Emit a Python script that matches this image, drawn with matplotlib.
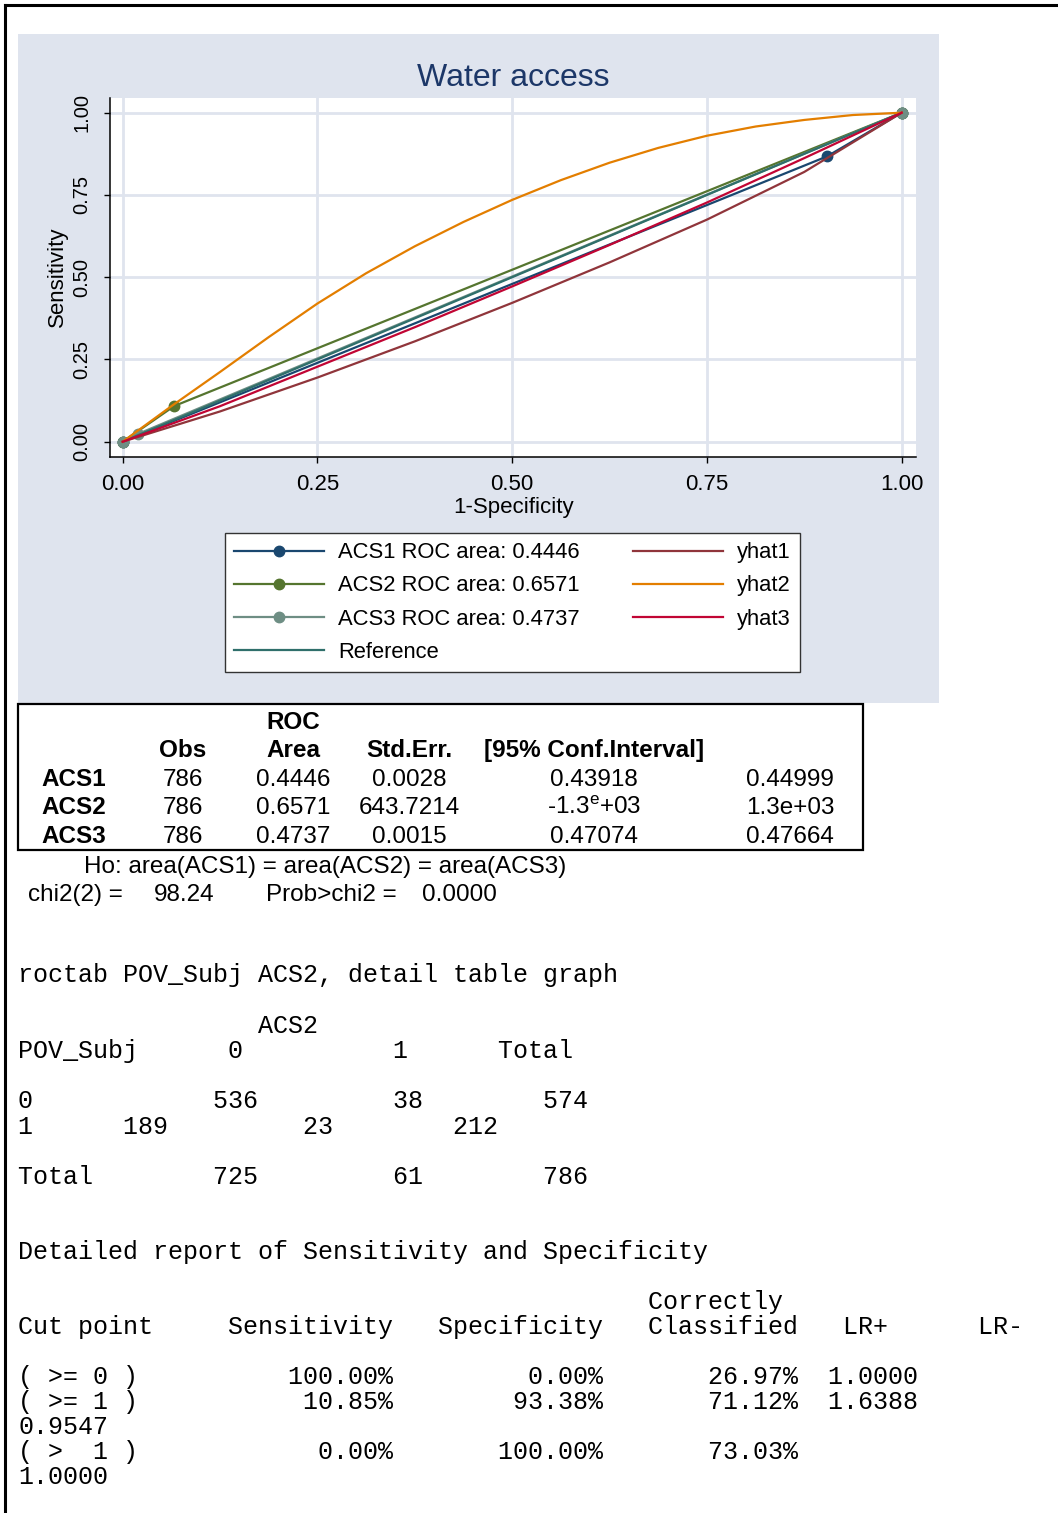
import matplotlib.pyplot as plt
from matplotlib.patches import Rectangle
from matplotlib.lines import Line2D

# page size in pixels (dpi 100)
W, H = 1058, 1513

# ROC points (1-specificity, sensitivity)
acs1_x = [0, 0.904, 1]
acs1_y = [0, 0.867, 1]
acs2_x = [0, 0.0662, 1]
acs2_y = [0, 0.1085, 1]
acs3_x = [0, 0.020, 1]
acs3_y = [0, 0.024, 1]
ref_x = [0, 1]
ref_y = [0, 1]

# fitted curves
yhat1_x = [0, 0.125, 0.25, 0.375, 0.5, 0.625, 0.75, 0.875, 1]
yhat1_y = [0, 0.092, 0.195, 0.305, 0.422, 0.545, 0.675, 0.82, 1]
yhat3_x = [0, 0.125, 0.25, 0.375, 0.5, 0.625, 0.75, 0.875, 1]
yhat3_y = [0, 0.108, 0.228, 0.348, 0.472, 0.598, 0.727, 0.862, 1]
yhat2_x = [0, 0.0625, 0.125, 0.1875, 0.25, 0.3125, 0.375, 0.4375, 0.5,
           0.5625, 0.625, 0.6875, 0.75, 0.8125, 0.875, 0.9375, 1]
yhat2_y = [0, 0.108, 0.212, 0.318, 0.42, 0.512, 0.594, 0.668, 0.735,
           0.795, 0.848, 0.893, 0.93, 0.958, 0.978, 0.993, 1]

roc_names = ["ACS1", "ACS2", "ACS3"]
roc_areas = ["0.4446", "0.6571", "0.4737"]
obs = ["786", "786", "786"]
std_err = ["0.0028", "643.7214", "0.0015"]
ci_low = ["0.43918", r"-1.3$^\mathregular{e}$+03", "0.47074"]
ci_high = ["0.44999", "1.3e+03", "0.47664"]
chi2_val = "98.24"
prob_val = "0.0000"

# roctab cross table
tab_rows = ["0", "1"]
tab_c0 = [536, 189]
tab_c1 = [38, 23]
tab_tot = [574, 212]
col_tot = [725, 61, 786]

# detail report
cut_pts = ["( >= 0 )", "( >= 1 )", "( >  1 )"]
sens = ["100.00%", "10.85%", "0.00%"]
spec = ["0.00%", "93.38%", "100.00%"]
correct = ["26.97%", "71.12%", "73.03%"]
lr_pos = ["1.0000", "1.6388", ""]
lr_neg = ["", "0.9547", "1.0000"]

bg = "#dfe4ee"
c_acs1, c_acs2, c_acs3 = "#1a476f", "#55752f", "#6e8e84"
c_ref = "#2f6f6b"
c_y1, c_y2, c_y3 = "#90353b", "#e37e00", "#c10534"

sans = "Liberation Sans"
mono = "Liberation Mono"


def fx(x):
    return x / W


def fy(y):
    return 1 - y / H


fig = plt.figure(figsize=(W / 100, H / 100), dpi=100)
fig.patch.set_facecolor("white")

# page borders
fig.add_artist(Line2D([fx(5), 1], [fy(5), fy(5)], transform=fig.transFigure,
                      color="black", lw=2.2))
fig.add_artist(Line2D([fx(5), fx(5)], [fy(5), 0], transform=fig.transFigure,
                      color="black", lw=2.2))

# graph region
fig.add_artist(Rectangle((fx(18), fy(703)), (939 - 18) / W, (703 - 34) / H,
                         transform=fig.transFigure, facecolor=bg,
                         edgecolor="none", zorder=-1))

ax = fig.add_axes([fx(110), fy(457), (916 - 110) / W, (457 - 98) / H])
ax.set_facecolor("white")
lw = 1.6
ms = 7.5
ax.plot(acs1_x, acs1_y, color=c_acs1, lw=lw, marker="o", ms=ms,
        label=f"{roc_names[0]} ROC area: {roc_areas[0]}")
ax.plot(acs2_x, acs2_y, color=c_acs2, lw=lw, marker="o", ms=ms,
        label=f"{roc_names[1]} ROC area: {roc_areas[1]}")
ax.plot(acs3_x, acs3_y, color=c_acs3, lw=lw, marker="o", ms=ms,
        label=f"{roc_names[2]} ROC area: {roc_areas[2]}")
ax.plot(ref_x, ref_y, color=c_ref, lw=lw, label="Reference")
ax.plot(yhat1_x, yhat1_y, color=c_y1, lw=lw, label="yhat1")
ax.plot(yhat2_x, yhat2_y, color=c_y2, lw=lw, label="yhat2")
ax.plot(yhat3_x, yhat3_y, color=c_y3, lw=lw, label="yhat3")

ax.set_xlim(-0.0163, 1.0184)
ax.set_ylim(-0.0465, 1.0447)
ticks = [0, 0.25, 0.5, 0.75, 1]
ax.set_xticks(ticks)
ax.set_yticks(ticks)
ax.set_xticklabels([f"{t:.2f}" for t in ticks], fontfamily=sans, fontsize=16)
ax.set_yticklabels([f"{t:.2f}" for t in ticks], fontfamily=sans, fontsize=14.5,
                   rotation=90, va="center")
ax.tick_params(axis="x", length=4.3, width=1, pad=8)
ax.tick_params(axis="y", length=4.3, width=1, pad=9)
ax.grid(color=bg, lw=2)
ax.set_axisbelow(True)
for s in ["top", "right"]:
    ax.spines[s].set_visible(False)
for s in ["left", "bottom"]:
    ax.spines[s].set_linewidth(1.1)

fig.text(fx(513.5), fy(78), "Water access", ha="center", va="center",
         fontfamily=sans, fontsize=23, color="#1c3768")
fig.text(fx(513.5), fy(508), "1-Specificity", ha="center", va="center",
         fontfamily=sans, fontsize=16)
fig.text(fx(57), fy(277), "Sensitivity", ha="center", va="center",
         rotation=90, fontfamily=sans, fontsize=16)

handles, labels = ax.get_legend_handles_labels()
leg = fig.legend(handles, labels, ncol=2, loc="center", mode="expand",
                 bbox_to_anchor=(fx(225), fy(672), (800 - 225) / W, (672 - 533) / H),
                 borderaxespad=0, prop={"family": sans, "size": 15.8},
                 handlelength=4.1, handletextpad=0.65, labelspacing=0.55,
                 borderpad=0.42, fancybox=False, framealpha=1, numpoints=1)
leg.get_frame().set_edgecolor("#333333")
leg.get_frame().set_linewidth(1)

# comparison table
fig.add_artist(Rectangle((fx(18), fy(850)), (863 - 18) / W, (850 - 704) / H,
                         transform=fig.transFigure, fill=False,
                         edgecolor="black", lw=1.6))
tfs = 17.5
col_c = [183, 293, 409, 594, 790]
fig.text(fx(293), fy(729), "ROC", ha="center", va="baseline",
         fontfamily=sans, fontsize=tfs, fontweight="bold")
for cx, h in zip(col_c[:4], ["Obs", "Area", "Std.Err.", "[95% Conf.Interval]"]):
    fig.text(fx(cx), fy(757), h, ha="center", va="baseline",
             fontfamily=sans, fontsize=tfs, fontweight="bold")
row_base = [786, 814, 843]
for i, yb in enumerate(row_base):
    fig.text(fx(41), fy(yb), roc_names[i], ha="left", va="baseline",
             fontfamily=sans, fontsize=tfs, fontweight="bold")
    vals = [obs[i], roc_areas[i], std_err[i], ci_low[i], ci_high[i]]
    for cx, v in zip(col_c, vals):
        fig.text(fx(cx), fy(yb), v, ha="center", va="baseline",
                 fontfamily=sans, fontsize=tfs)

fig.text(fx(84), fy(873), "Ho: area(ACS1) = area(ACS2) = area(ACS3)",
         va="baseline", fontfamily=sans, fontsize=tfs)
for x, t in zip([28, 154, 266, 422], ["chi2(2) =", chi2_val, "Prob>chi2 =", prob_val]):
    fig.text(fx(x), fy(901), t, va="baseline", fontfamily=sans, fontsize=tfs)

# console output in monospace
lines = []
lines.append((982, "roctab POV_Subj ACS2, detail table graph"))
lines.append((1033, " " * 16 + "ACS2"))
lines.append((1058, f"{'POV_Subj':<14}{'0':<11}{'1':<7}Total"))
lines.append((1108, f"{tab_rows[0]:<13}{tab_c0[0]:<12}{tab_c1[0]:<10}{tab_tot[0]}"))
lines.append((1134, f"{tab_rows[1]:<7}{tab_c0[1]:<12}{tab_c1[1]:<10}{tab_tot[1]}"))
lines.append((1184, f"{'Total':<13}{col_tot[0]:<12}{col_tot[1]:<10}{col_tot[2]}"))
lines.append((1259, "Detailed report of Sensitivity and Specificity"))
lines.append((1309, " " * 42 + "Correctly"))
lines.append((1334, f"{'Cut point':<14}{'Sensitivity':<14}{'Specificity':<14}"
                    f"{'Classified':<13}{'LR+':<9}LR-"))
base = 1384
for i in range(3):
    row = f"{cut_pts[i]:<8}{sens[i]:>17}{spec[i]:>14}{correct[i]:>13}"
    if lr_pos[i]:
        row += "  " + lr_pos[i]
    lines.append((base, row))
    base += 25
    if lr_neg[i]:
        lines.append((base, lr_neg[i]))
        base += 25

for yb, t in lines:
    fig.text(fx(18), fy(yb), t, va="baseline", fontfamily=mono, fontsize=18)

fig.savefig("out.png", dpi=100)
